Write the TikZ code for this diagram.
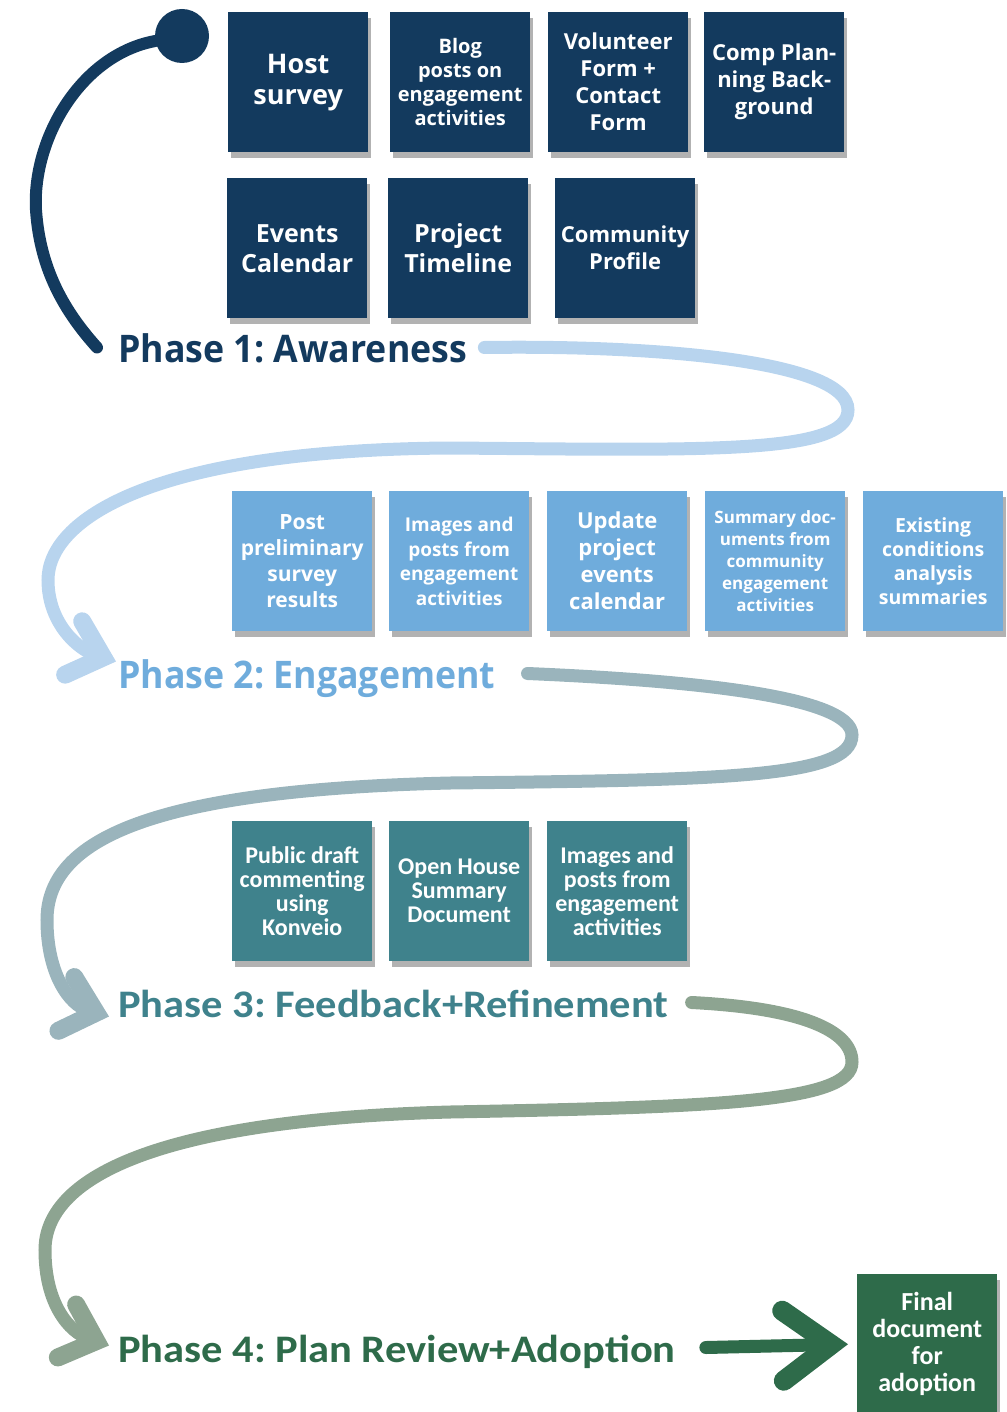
\documentclass[tikz,border=0pt]{standalone}
\usepackage{fontspec}
\setmainfont{Open Sans}
\newfontfamily\phasefont{Open Sans}[FakeStretch=0.94]
\newfontfamily\calfont{Carlito}
\newfontfamily\widecalfont{Carlito}[FakeStretch=1.09]
\usepackage{tikz}
\usetikzlibrary{arrows.meta, shadows, positioning}
\frenchspacing

\definecolor{awareblue}{RGB}{19,58,94}
\definecolor{engageblue}{RGB}{111,172,220}
\definecolor{paleblue}{RGB}{184,212,238}
\definecolor{feedteal}{RGB}{63,130,140}
\definecolor{greyteal}{RGB}{154,180,188}
\definecolor{sage}{RGB}{141,164,145}
\definecolor{adoptgreen}{RGB}{46,107,74}

\tikzset{
  card/.style n args={3}{fill=#1, text=white, anchor=north west, minimum width=140pt, minimum height=140pt,
    inner sep=1pt, align=center, font=\bfseries\fontsize{#2}{#3}\selectfont,
    drop shadow={shadow xshift=3pt, shadow yshift=-6pt, opacity=.3, fill=black}},
  narrowcard/.style n args={3}{card={#1}{#2}{#3}, font=\calfont\bfseries\fontsize{#2}{#3}\selectfont},
  phase/.style 2 args={anchor=base west, inner sep=0pt, text height=29pt, text depth=0pt, text=#1,
    font=\phasefont\bfseries\fontsize{#2}{#2}\selectfont},
  narrowphase/.style={phase={#1}{39}, font=\widecalfont\bfseries\fontsize{39}{39}\selectfont},
  flow/.style={draw=#1, line width=13pt, line cap=round,
    -{Straight Barb[length=31pt, width=56pt, line width=18pt, line cap=round, line join=miter]}},
}

\begin{document}
\begin{tikzpicture}[x=1pt, y=-1pt]
    \useasboundingbox (0,0) rectangle (1006,1412);

    % phase 1: awareness
    \node[card={awareblue}{27}{31}] at (228,12) (host) {Host\\survey};
    \node[card={awareblue}{20}{24}] at (390,12) (blog) {Blog\\posts on\\engagement\\activities};
    \node[card={awareblue}{22}{27}] at (548,12) (volunteer) {Volunteer\\Form +\\Contact\\Form};
    \node[card={awareblue}{22}{27}] at (704,12) (comp) {Comp Plan-\\ning Back-\\ground};
    \node[card={awareblue}{25}{30}] at (227,178) (events) {Events\\Calendar};
    \node[card={awareblue}{25}{30}] at (388,178) (timeline) {Project\\Timeline};
    \node[card={awareblue}{22}{27}] at (555,178) (profile) {Community\\Profile};
    \node[phase={awareblue}{38}] at (118,362) (p1) {Phase 1: Awareness};

    % phase 2: engagement
    \node[card={engageblue}{21}{26}] at (232,491) (prelim) {Post\\preliminary\\survey\\results};
    \node[card={engageblue}{19}{24.5}] at (389,491) (images) {Images and\\posts from\\engagement\\activities};
    \node[card={engageblue}{22}{27}] at (547,491) (update) {Update\\project\\events\\calendar};
    \node[card={engageblue}{17}{22}] at (705,491) (summary) {Summary doc-\\uments from\\community\\engagement\\activities};
    \node[card={engageblue}{19.5}{24}] at (863,491) (existing) {Existing\\conditions\\analysis\\summaries};
    \node[phase={engageblue}{38}] at (118,688) (p2) {Phase 2: Engagement};

    % phase 3: feedback
    \node[narrowcard={feedteal}{24}{24}] at (232,821) (konveio) {Public draft\\commenting\\using\\Konveio};
    \node[narrowcard={feedteal}{24}{24}] at (389,821) (openhouse) {Open House\\Summary\\Document};
    \node[narrowcard={feedteal}{24}{24}] at (547,821) (images3) {Images and\\posts from\\engagement\\activities};
    \node[narrowphase=feedteal] at (118,1017) (p3) {Phase 3: Feedback+Refinement};

    % phase 4: adoption
    \node[narrowphase=adoptgreen] at (118,1362) (p4) {Phase 4: Plan Review+Adoption};
    \node[narrowcard={adoptgreen}{26}{27}] at (857,1274) (final) {Final\\document\\for\\adoption};

    % connectors
    \node[circle, fill=awareblue, minimum size=54pt, inner sep=0pt] at (182,36) (dot) {};
    \draw[awareblue, line width=12pt, line cap=round] (dot) .. controls (80,55) and (32,140) .. (36,210)
        .. controls (40,270) and (65,312) .. ([xshift=-21pt]p1.west);
    \draw[flow=paleblue] ([xshift=17pt]p1.east) .. controls (650,345) and (848,360) .. (848,410)
        .. controls (848,455) and (700,450) .. (450,448) .. controls (150,450) and (48,520) .. (48,580)
        .. controls (48,625) and (80,650) .. ([shift={(-2,-12)}]p2.west);
    \draw[flow=greyteal] ([xshift=32pt]p2.east) .. controls (680,680) and (852,695) .. (852,735)
        .. controls (852,778) and (720,780) .. (450,783) .. controls (150,790) and (47,840) .. (47,920)
        .. controls (47,975) and (70,1005) .. ([shift={(-9,14)}]p3.west);
    \draw[flow=sage] ([xshift=23pt]p3.east) .. controls (800,1008) and (852,1030) .. (852,1062)
        .. controls (852,1102) and (720,1107) .. (450,1112) .. controls (150,1120) and (45,1180) .. (45,1250)
        .. controls (45,1305) and (70,1332) .. ([shift={(-9,-2)}]p4.west);
    \draw[adoptgreen, line width=13pt, line cap=round,
        -{Straight Barb[length=48pt, width=70pt, line width=20pt, line cap=round, line join=miter]}]
        ([xshift=30pt]p4.east) -- ([xshift=-9pt]final.west);
\end{tikzpicture}
\end{document}
